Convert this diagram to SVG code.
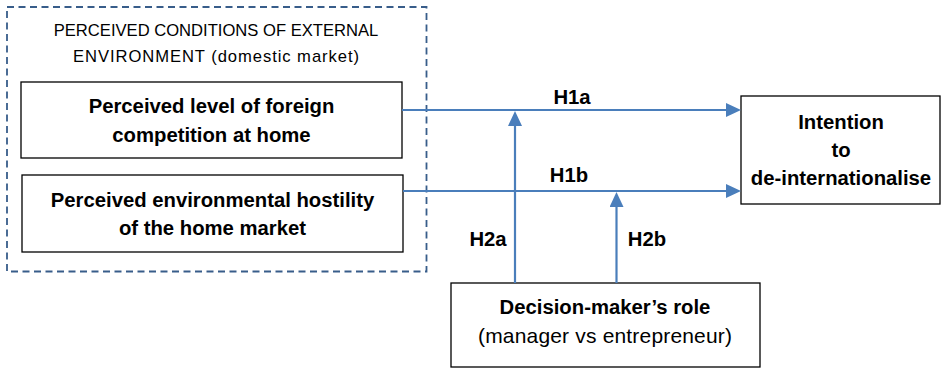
<svg xmlns="http://www.w3.org/2000/svg" width="941" height="369" viewBox="0 0 941 369">
<style>
.box{fill:#fff;stroke:#000;stroke-width:1.3}
.grp{fill:none;stroke:#385D8A;stroke-width:1.8;stroke-dasharray:7 4.5}
.conn{stroke:#4A7EBB;stroke-width:2.2;fill:none}
.t{font-family:"Liberation Sans",Arial,sans-serif;fill:#000;text-anchor:middle}
.b{font-weight:bold;font-size:20.3px}
.r{font-size:16.6px}
.r2{font-size:21px}
</style>
<defs>
<marker id="ah" markerUnits="userSpaceOnUse" markerWidth="15" markerHeight="14" refX="0" refY="7" orient="auto" viewBox="0 0 15 14">
<path d="M0,0 L15,7 L0,14 Z" fill="#4A7EBB"/>
</marker>
</defs>
<g id="environment">
<rect class="grp" x="7" y="7" width="419.5" height="264.5"/>
<text class="t r" x="216" y="36">PERCEIVED CONDITIONS OF EXTERNAL</text>
<text class="t r" x="216" y="62" textLength="286" lengthAdjust="spacing">ENVIRONMENT (domestic market)</text>
</g>
<g id="foreign-competition">
<rect class="box" x="21" y="82" width="381" height="76"/>
<text class="t b" x="211.5" y="113">Perceived level of foreign</text>
<text class="t b" x="211.5" y="142">competition at home</text>
</g>
<g id="hostility">
<rect class="box" x="22" y="175" width="381" height="77"/>
<text class="t b" x="212.5" y="207">Perceived environmental hostility</text>
<text class="t b" x="212.5" y="235">of the home market</text>
</g>
<g id="intention">
<rect class="box" x="741" y="96" width="199" height="108"/>
<text class="t b" x="841" y="129">Intention</text>
<text class="t b" x="841" y="157">to</text>
<text class="t b" x="841" y="185">de-internationalise</text>
</g>
<g id="decision-maker">
<rect class="box" x="451" y="283" width="309" height="84"/>
<text class="t b" x="605" y="314">Decision-maker’s role</text>
<text class="t r2" x="605" y="343" textLength="254" lengthAdjust="spacing">(manager vs entrepreneur)</text>
</g>
<g id="connectors">
<line class="conn" x1="402" y1="110" x2="726" y2="110" marker-end="url(#ah)"/>
<line class="conn" x1="403" y1="191" x2="726" y2="191" marker-end="url(#ah)"/>
<line class="conn" x1="515" y1="283" x2="515" y2="126" marker-end="url(#ah)"/>
<line class="conn" x1="616.5" y1="283" x2="616.5" y2="207" marker-end="url(#ah)"/>
<text class="t b" x="572" y="104">H1a</text>
<text class="t b" x="569" y="182">H1b</text>
<text class="t b" x="488" y="246">H2a</text>
<text class="t b" x="647" y="246">H2b</text>
</g>
</svg>
